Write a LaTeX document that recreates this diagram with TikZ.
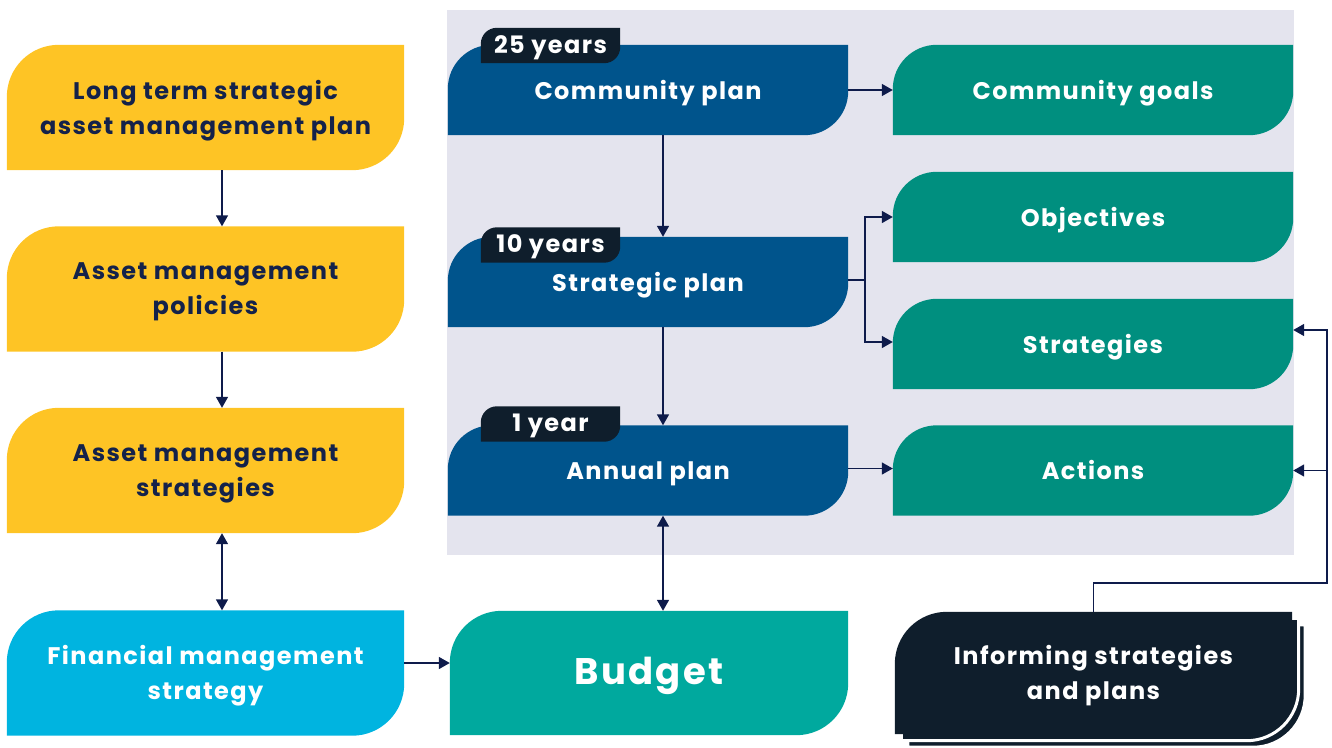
\documentclass[tikz,border=0pt]{standalone}
\usepackage{fontspec}
\setmainfont{Poppins}
\newfontfamily\planfont{Poppins}[LetterSpace=6]
\usetikzlibrary{arrows.meta,backgrounds}
\pgfdeclarelayer{panel}
\pgfdeclarelayer{tagback}
\pgfsetlayers{panel,background,tagback,main}

\definecolor{amyellow}{HTML}{FEC425}
\definecolor{planblue}{HTML}{00548C}
\definecolor{goalgreen}{HTML}{008F7F}
\definecolor{budgetteal}{HTML}{00A99E}
\definecolor{fincyan}{HTML}{00B4E0}
\definecolor{inkdark}{HTML}{0F1E2C}
\definecolor{navytext}{HTML}{14224A}
\definecolor{linkblue}{HTML}{0E1B4B}
\definecolor{panelgrey}{HTML}{E4E4EE}

\tikzset{
  leaf/.style={inner sep=0pt},
  leaftext/.style={align=center,font=\planfont\bfseries\fontsize{24}{35}\selectfont,text=white,yshift=-3pt},
  yellowleaf/.style={leaf,minimum width=397pt,minimum height=125pt},
  planleaf/.style={leaf,minimum width=400pt,minimum height=90pt},
  tagleaf/.style={leaf,minimum width=139pt,minimum height=35pt},
  link/.style={line width=1.5pt,draw=linkblue}
}

% shape with rounded top-left and bottom-right corners
\newcommand{\leafshape}[4][0,0]{%
  \fill[#4] ([shift={(#1)}]#2.south west) -- ([shift={(#1)},yshift=-#3]#2.north west)
    arc[start angle=180,end angle=90,radius=#3] -- ([shift={(#1)}]#2.north east)
    -- ([shift={(#1)},yshift=#3]#2.south east)
    arc[start angle=0,end angle=-90,radius=#3] -- cycle;}

\begin{document}
\begin{tikzpicture}[line cap=butt,line join=miter,>={Triangle[length=11pt,width=12pt]},x=1pt,y=1pt]
\useasboundingbox (0,0) rectangle (1332,-747);

% left column
\node[yellowleaf,label={[leaftext,text=navytext]center:Long term strategic\\asset management plan}] (ltam) at (205.5,-107.5) {};
\node[yellowleaf,label={[leaftext,text=navytext]center:Asset management\\policies}] (amp) at (205.5,-289) {};
\node[yellowleaf,label={[leaftext,text=navytext]center:Asset management\\strategies}] (ams) at (205.5,-470.5) {};
\node[yellowleaf,label={[leaftext]center:Financial management\\strategy}] (fms) at (205.5,-673) {};

% plans
\node[planleaf,label={[leaftext]center:Community plan}] (cp) at (648,-90) {};
\node[planleaf,label={[leaftext]center:Strategic plan}] (sp) at (648,-282) {};
\node[planleaf,label={[leaftext]center:Annual plan}] (ap) at (648,-470.5) {};
\node[leaf,minimum width=398pt,minimum height=124pt,
  label={[leaftext,font=\planfont\bfseries\fontsize{37}{40}\selectfont]center:Budget}] (bud) at (649,-673) {};

\node[tagleaf,label={[leaftext,yshift=1pt]center:25 years}] (t25) at (550.5,-45.5) {};
\node[tagleaf,label={[leaftext,yshift=1pt]center:10 years}] (t10) at (550.5,-245) {};
\node[tagleaf,label={[leaftext,yshift=1pt]center:1 year}] (t1) at (550.5,-424) {};

% outcomes
\node[planleaf,label={[leaftext]center:Community goals}] (cg) at (1093,-90) {};
\node[planleaf,label={[leaftext]center:Objectives}] (obj) at (1093,-217) {};
\node[planleaf,label={[leaftext]center:Strategies}] (str) at (1093,-344) {};
\node[planleaf,label={[leaftext]center:Actions\vphantom{g}}] (act) at (1093,-470.5) {};

\node[leaf,minimum width=397pt,minimum height=122pt,
  label={[leaftext]center:Informing strategies\\and plans}] (isp) at (1093.5,-673) {};

% connectors
\draw[link,->] ([xshift=16.5pt]ltam.south) -- ([xshift=16.5pt]amp.north);
\draw[link,->] ([xshift=16.5pt]amp.south) -- ([xshift=16.5pt]ams.north);
\draw[link,<->] ([xshift=16.5pt]ams.south) -- ([xshift=16.5pt]fms.north);
\draw[link,->] ([yshift=10pt]fms.east) -- ([yshift=10pt]bud.west);
\draw[link,->] ([xshift=15pt]cp.south) -- ([xshift=15pt]sp.north);
\draw[link,->] ([xshift=15pt]sp.south) -- ([xshift=15pt]ap.north);
\draw[link,<->] ([xshift=15pt]ap.south) -- ([xshift=14pt]bud.north);
\draw[link,->] (cp.east) -- (cg.west);
\draw[link] ([yshift=2pt]sp.east) -- ++(17,0) coordinate (split);
\draw[link,->] (split) |- (obj.west);
\draw[link,->] (split) |- ([yshift=2pt]str.west);
\draw[link,->] ([yshift=2pt]ap.east) -- ([yshift=2pt]act.west);
\coordinate (bend) at (1327,-583);
\draw[link,->] (isp.north) |- (bend) |- ([yshift=14pt]str.east);
\draw[link,->] (bend |- act.east) -- (act.east);

\begin{pgfonlayer}{panel}
  \fill[panelgrey] (447,-10) rectangle (1294,-555);
\end{pgfonlayer}

\begin{pgfonlayer}{background}
  \leafshape{ltam}{52pt}{amyellow}
  \leafshape{amp}{52pt}{amyellow}
  \leafshape{ams}{52pt}{amyellow}
  \leafshape{fms}{52pt}{fincyan}
  \leafshape{cp}{44pt}{planblue}
  \leafshape{sp}{44pt}{planblue}
  \leafshape{ap}{44pt}{planblue}
  \leafshape{bud}{52pt}{budgetteal}
  \leafshape{cg}{44pt}{goalgreen}
  \leafshape{obj}{44pt}{goalgreen}
  \leafshape{str}{44pt}{goalgreen}
  \leafshape{act}{44pt}{goalgreen}
  % stacked sheets behind the informing box
  \leafshape[13,-13]{isp}{52pt}{inkdark,draw=white,line width=3pt}
  \leafshape[6.5,-6.5]{isp}{52pt}{inkdark,draw=white,line width=3pt}
  \leafshape{isp}{52pt}{inkdark}
\end{pgfonlayer}

\begin{pgfonlayer}{tagback}
  \leafshape{t25}{16pt}{inkdark}
  \leafshape{t10}{16pt}{inkdark}
  \leafshape{t1}{16pt}{inkdark}
\end{pgfonlayer}
\end{tikzpicture}
\end{document}
